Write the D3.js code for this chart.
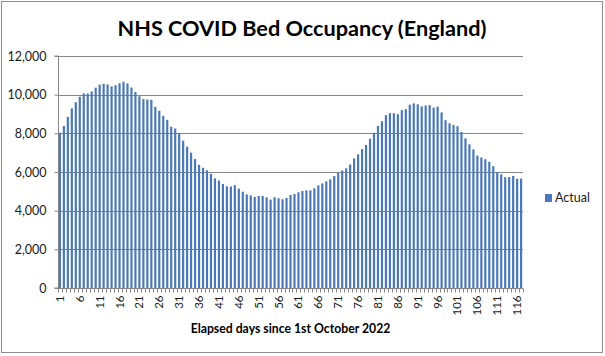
<!DOCTYPE html>
<html><head><meta charset="utf-8">
<script src="https://cdn.jsdelivr.net/npm/d3@7"></script>
<style>html,body{margin:0;padding:0;background:#fff;}svg{display:block;}</style>
</head><body>
<svg id="c" width="605" height="356"></svg>
<script>
const title = "NHS COVID Bed Occupancy (England)";
const xTitle = "Elapsed days since 1st October 2022";
const seriesName = "Actual";
const days = d3.range(1, 118);
const actual = [
 8030, 8380, 8850, 9290, 9610, 9890, 10060, 10060, 10170, 10360,
 10520, 10560, 10530, 10430, 10490, 10590, 10670, 10580, 10370, 10140,
 9920, 9770, 9750, 9730, 9370, 9170, 8900, 8700, 8340, 8250,
 8000, 7620, 7310, 7000, 6670, 6370, 6220, 6090, 5910, 5670,
 5560, 5380, 5260, 5250, 5320, 5140, 4980, 4840, 4790, 4710,
 4760, 4760, 4690, 4570, 4690, 4640, 4590, 4660, 4810, 4860,
 4950, 5020, 5050, 5050, 5160, 5310, 5410, 5520, 5620, 5790,
 5970, 6080, 6190, 6390, 6700, 6910, 7180, 7400, 7720, 8030,
 8380, 8630, 8940, 9040, 9040, 8990, 9200, 9250, 9480, 9550,
 9500, 9390, 9440, 9460, 9330, 9380, 9080, 8680, 8520, 8430,
 8370, 8070, 7740, 7430, 7170, 6850, 6750, 6660, 6530, 6300,
 5990, 5880, 5730, 5740, 5800, 5650, 5660
];
const yTicks = [0, 2000, 4000, 6000, 8000, 10000, 12000];
const xLabelDays = days.filter(d => (d - 1) % 5 === 0);

const font = "Lato, 'Open Sans', sans-serif";
const svg = d3.select("#c");
svg.append("rect").attr("x", 1.5).attr("y", 1.5).attr("width", 601).attr("height", 351)
  .attr("fill", "#fff").attr("stroke", "#8c8c8c").attr("stroke-width", 1);

const L = 58, R = 523, T = 56, B = 288;
const x = d3.scaleBand().domain(days).range([L, R]).paddingInner(0.45).paddingOuter(0.2);
const y = d3.scaleLinear().domain([0, 12000]).range([B, T]);

// gridlines
svg.append("g").selectAll("line").data(yTicks.filter(v => v > 0)).join("line")
  .attr("x1", L).attr("x2", R).attr("y1", d => Math.round(y(d)) + 0.5).attr("y2", d => Math.round(y(d)) + 0.5)
  .attr("stroke", "#868686").attr("stroke-width", 1);

// bars
svg.append("g").selectAll("rect").data(actual).join("rect")
  .attr("x", (d, i) => x(days[i]))
  .attr("width", x.bandwidth())
  .attr("y", d => y(d))
  .attr("height", d => B - y(d))
  .attr("fill", "#4a78b8");

// y axis
const yAxis = d3.axisLeft(y).tickValues(yTicks).tickFormat(d3.format(",")).tickSize(4).tickPadding(8);
const gy = svg.append("g").attr("transform", `translate(${L + 0.5},0)`).call(yAxis);
gy.select(".domain").attr("stroke", "#868686").attr("d", `M-4,${T}H0V${B}H-4`);
gy.selectAll(".tick line").attr("stroke", "#868686");
gy.selectAll(".tick text").attr("font-family", font).attr("font-size", 12.5).attr("fill", "#1a1a1a");

// x axis: minor ticks at category boundaries
const gx = svg.append("g").attr("transform", `translate(0,${B + 0.5})`);
gx.append("line").attr("x1", L).attr("x2", R).attr("stroke", "#868686");
const step = x.step();
gx.selectAll("line.t").data(d3.range(0, days.length + 1)).join("line").attr("class", "t")
  .attr("x1", i => Math.round(L + i * (R - L) / days.length) + 0.5)
  .attr("x2", i => Math.round(L + i * (R - L) / days.length) + 0.5)
  .attr("y1", 0).attr("y2", 4).attr("stroke", "#868686");
gx.selectAll("text").data(xLabelDays).join("text")
  .attr("transform", d => `translate(${x(d) + x.bandwidth() / 2 + 4},7) rotate(-90)`)
  .attr("text-anchor", "end")
  .attr("font-family", font).attr("font-size", 11.5).attr("fill", "#1a1a1a")
  .text(d => d);

// titles
function fit(sel, target) {
  const w = sel.node().getComputedTextLength();
  const fs = parseFloat(sel.attr("font-size"));
  sel.attr("font-size", fs * target / w);
}
const t = svg.append("text").attr("x", 302).attr("y", 36).attr("text-anchor", "middle")
  .attr("font-family", font).attr("font-weight", "bold").attr("font-size", 24).attr("fill", "#000").text(title);
fit(t, 369);
const xt = svg.append("text").attr("x", 290.5).attr("y", 333).attr("text-anchor", "middle")
  .attr("font-family", font).attr("font-weight", "bold").attr("font-size", 12).attr("fill", "#000").text(xTitle);
fit(xt, 200);

// legend
const lg = svg.append("g").attr("transform", "translate(545,194)");
lg.append("rect").attr("width", 7).attr("height", 8).attr("fill", "#4a78b8");
lg.append("text").attr("x", 10).attr("y", 8).attr("font-family", font).attr("font-size", 12.5).attr("fill", "#1a1a1a").text(seriesName);
</script>
</body></html>
